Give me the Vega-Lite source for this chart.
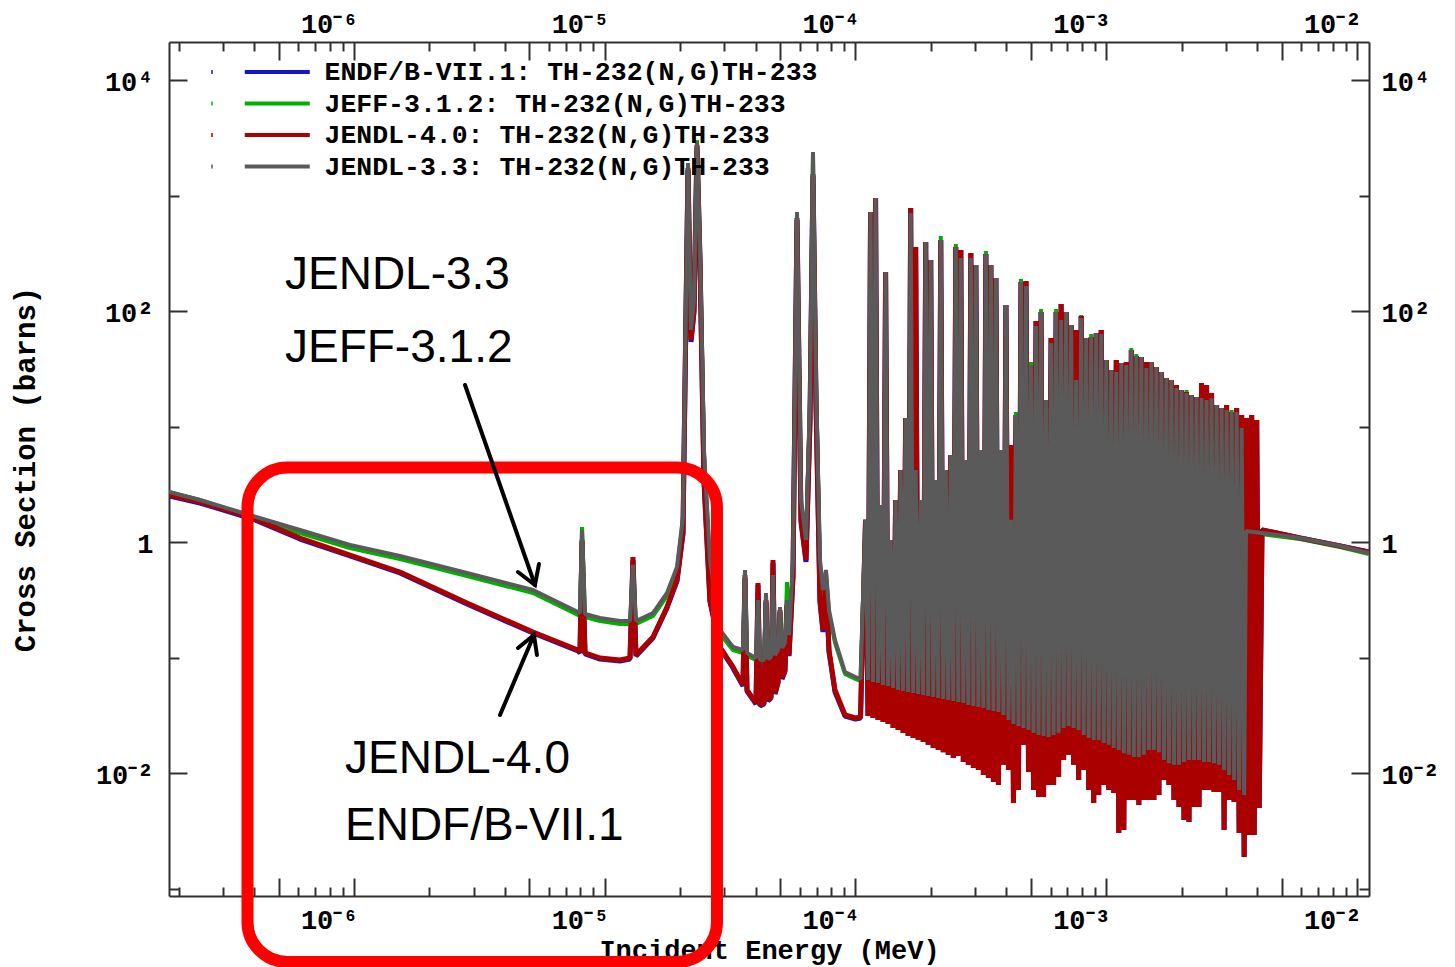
{
"$schema":"https://vega.github.io/schema/vega-lite/v6.json",
"width":1200,"height":854,
"autosize":{"type":"none"},
"padding":{"left":169,"top":42,"right":86,"bottom":71},
"background":"white",
"config":{"view":{"stroke":null}},
"datasets":{
"gray":[{"e":1.829e-7,"v":2.736},{"e":2.431e-7,"v":2.333},{"e":3.956e-7,"v":1.696},{"e":6.090e-7,"v":1.283},{"e":9.640e-7,"v":0.951},{"e":1.525e-6,"v":0.764},{"e":2.823e-6,"v":0.5445},{"e":5.174e-6,"v":0.3879},{"e":7.823e-6,"v":0.2502},{"e":7.968e-6,"v":0.245},{"e":8.116e-6,"v":1.283},{"e":8.342e-6,"v":0.2404},{"e":9.574e-6,"v":0.2220},{"e":1.150e-5,"v":0.2091},{"e":1.261e-5,"v":0.2091},{"e":1.296e-5,"v":0.639},{"e":1.332e-5,"v":0.2091},{"e":1.557e-5,"v":0.245},{"e":1.771e-5,"v":0.3655},{"e":1.942e-5,"v":0.6135},{"e":2.051e-5,"v":1.663},{"e":2.109e-5,"v":125.9},{"e":2.148e-5,"v":1931},{"e":2.208e-5,"v":69.2},{"e":2.270e-5,"v":125.9},{"e":2.333e-5,"v":2935},{"e":2.398e-5,"v":341},{"e":2.488e-5,"v":6.32},{"e":2.628e-5,"v":0.706},{"e":2.882e-5,"v":0.175},{"e":3.246e-5,"v":0.1245},{"e":3.559e-5,"v":0.1173},{"e":3.625e-5,"v":0.578},{"e":3.692e-5,"v":0.1105},{"e":4.011e-5,"v":0.100},{"e":4.085e-5,"v":0.318},{"e":4.161e-5,"v":0.0961},{"e":4.316e-5,"v":0.0961},{"e":4.396e-5,"v":0.3655},{"e":4.477e-5,"v":0.0980},{"e":4.602e-5,"v":0.1020},{"e":4.688e-5,"v":0.523},{"e":4.775e-5,"v":0.106},{"e":4.908e-5,"v":0.1173},{"e":4.999e-5,"v":0.2764},{"e":5.092e-5,"v":0.1221},{"e":5.234e-5,"v":0.1349},{"e":5.331e-5,"v":0.318},{"e":5.430e-5,"v":0.158},{"e":5.633e-5,"v":0.706},{"e":5.844e-5,"v":727},{"e":6.063e-5,"v":2.333},{"e":6.347e-5,"v":1.05},{"e":6.584e-5,"v":17.1},{"e":6.768e-5,"v":2404},{"e":6.957e-5,"v":25.5},{"e":7.217e-5,"v":0.706},{"e":7.419e-5,"v":0.388},{"e":7.626e-5,"v":0.578},{"e":7.841e-5,"v":0.260},{"e":8.285e-5,"v":0.143},{"e":9.081e-5,"v":0.07563},{"e":1.0e-4,"v":0.06846},{"e":1.0471e-4,"v":0.06579},
{"e":1.0965e-4,"v":1.57},{"e":1.1220e-4,"v":0.0645},{"e":1.1482e-4,"v":727},{"e":1.1749e-4,"v":0.0620},{"e":1.2023e-4,"v":960.9},{"e":1.2303e-4,"v":0.0607},{"e":1.2589e-4,"v":2.112},{"e":1.2882e-4,"v":0.0584},{"e":1.3183e-4,"v":219.8},{"e":1.3490e-4,"v":0.0572},{"e":1.3804e-4,"v":1.05},{"e":1.4125e-4,"v":0.0550},{"e":1.4454e-4,"v":2.333},{"e":1.4791e-4,"v":0.0528},{"e":1.5136e-4,"v":4.24},{"e":1.5488e-4,"v":0.0518},{"e":1.5849e-4,"v":11.96},{"e":1.6218e-4,"v":0.0508},{"e":1.6596e-4,"v":712.6},{"e":1.6982e-4,"v":0.0498},{"e":1.7378e-4,"v":4.24},{"e":1.7783e-4,"v":0.0488},{"e":1.8197e-4,"v":2.333},{"e":1.8621e-4,"v":0.0478},{"e":1.9055e-4,"v":399.6},{"e":1.9498e-4,"v":0.0469},{"e":1.9953e-4,"v":279},{"e":2.0417e-4,"v":0.0460},{"e":2.0893e-4,"v":3.48},{"e":2.1380e-4,"v":0.0450},{"e":2.1878e-4,"v":416},{"e":2.2387e-4,"v":0.0442},{"e":2.2909e-4,"v":4.24},{"e":2.3442e-4,"v":0.0433},{"e":2.3988e-4,"v":5.72},{"e":2.4547e-4,"v":0.0424},{"e":2.5119e-4,"v":361.7},{"e":2.5704e-4,"v":0.0416},{"e":2.6303e-4,"v":290.5},{"e":2.6915e-4,"v":0.0408},{"e":2.7542e-4,"v":5.18},{"e":2.8184e-4,"v":0.0392},{"e":2.8840e-4,"v":290.5},{"e":2.9512e-4,"v":0.0384},{"e":3.0200e-4,"v":253},{"e":3.0903e-4,"v":0.0377},{"e":3.1623e-4,"v":6.32},{"e":3.2359e-4,"v":0.0369},{"e":3.3113e-4,"v":314.7},{"e":3.3884e-4,"v":0.0355},{"e":3.4674e-4,"v":253},{"e":3.5481e-4,"v":0.0348},{"e":3.6308e-4,"v":195.0},{"e":3.7154e-4,"v":0.0341},{"e":3.8019e-4,"v":6.32},{"e":3.8905e-4,"v":0.0321},{"e":3.9811e-4,"v":113.8},{"e":4.0738e-4,"v":0.0291},{"e":4.1687e-4,"v":1.57},{"e":4.2658e-4,"v":0.0268},{"e":4.3652e-4,"v":12.7},{"e":4.4668e-4,"v":0.0258},{"e":4.5709e-4,"v":180.0},{"e":4.6774e-4,"v":0.0248},{"e":4.7863e-4,"v":166.3},{"e":4.8978e-4,"v":0.0238},{"e":5.0119e-4,"v":34.4},{"e":5.1286e-4,"v":0.0224},{"e":5.2481e-4,"v":74.9},{"e":5.3703e-4,"v":0.0216},{"e":5.4954e-4,"v":99.0},{"e":5.6234e-4,"v":0.0211},{"e":5.7544e-4,"v":17.1},{"e":5.8884e-4,"v":0.0207},{"e":6.0256e-4,"v":53.4},{"e":6.1660e-4,"v":0.0216},{"e":6.3096e-4,"v":99.0},{"e":6.4565e-4,"v":0.0224},{"e":6.6069e-4,"v":84.4},{"e":6.7608e-4,"v":0.0248},{"e":6.9183e-4,"v":99.0},{"e":7.0795e-4,"v":0.0258},{"e":7.2444e-4,"v":76.4},{"e":7.4131e-4,"v":0.0248},{"e":7.5858e-4,"v":25.5},{"e":7.7625e-4,"v":0.0238},{"e":7.9433e-4,"v":87.8},{"e":8.1283e-4,"v":0.0216},{"e":8.3176e-4,"v":59.0},{"e":8.5114e-4,"v":0.0203},{"e":8.7096e-4,"v":60.1},{"e":8.9125e-4,"v":0.0195},{"e":9.1201e-4,"v":65.1},{"e":9.3325e-4,"v":0.0195},{"e":9.5499e-4,"v":63.9},{"e":9.7724e-4,"v":0.0184},{"e":1.0000e-3,"v":38.0},{"e":1.0233e-3,"v":0.0177},{"e":1.0471e-3,"v":31.2},{"e":1.0715e-3,"v":0.0166},{"e":1.0965e-3,"v":29.9},{"e":1.1220e-3,"v":0.0160},{"e":1.1482e-3,"v":35.8},{"e":1.1749e-3,"v":0.0150},{"e":1.2023e-3,"v":34.4},{"e":1.2303e-3,"v":0.0145},{"e":1.2589e-3,"v":46.4},{"e":1.2882e-3,"v":0.0139},{"e":1.3183e-3,"v":41.2},{"e":1.3490e-3,"v":0.0139},{"e":1.3804e-3,"v":40.4},{"e":1.4125e-3,"v":0.0145},{"e":1.4454e-3,"v":32.4},{"e":1.4791e-3,"v":0.0160},{"e":1.5136e-3,"v":36.5},{"e":1.5488e-3,"v":0.0160},{"e":1.5849e-3,"v":33.1},{"e":1.6218e-3,"v":0.0153},{"e":1.6596e-3,"v":29.9},{"e":1.6982e-3,"v":0.0131},{"e":1.7378e-3,"v":26.6},{"e":1.7783e-3,"v":0.0123},{"e":1.8197e-3,"v":25.5},{"e":1.8621e-3,"v":0.0119},{"e":1.9055e-3,"v":21.8},{"e":1.9498e-3,"v":0.0119},{"e":1.9953e-3,"v":20.9},{"e":2.0417e-3,"v":0.0126},{"e":2.0893e-3,"v":19.7},{"e":2.1380e-3,"v":0.0131},{"e":2.1878e-3,"v":18.9},{"e":2.2387e-3,"v":0.0131},{"e":2.2909e-3,"v":18.2},{"e":2.3442e-3,"v":0.0131},{"e":2.3988e-3,"v":17.8},{"e":2.4547e-3,"v":0.0126},{"e":2.5119e-3,"v":17.1},{"e":2.5704e-3,"v":0.0126},{"e":2.6303e-3,"v":17.8},{"e":2.6915e-3,"v":0.0123},{"e":2.7542e-3,"v":15.5},{"e":2.8184e-3,"v":0.0119},{"e":2.8840e-3,"v":14.6},{"e":2.9512e-3,"v":0.0107},{"e":3.0200e-3,"v":14.0},{"e":3.0903e-3,"v":0.00971},{"e":3.1623e-3,"v":13.5},{"e":3.2359e-3,"v":0.00879},{"e":3.3113e-3,"v":13.5},{"e":3.3884e-3,"v":0.00720},{"e":3.4674e-3,"v":9.80},{"e":3.5481e-3,"v":0.00652},
{"e":3.608e-3,"v":1.258},{"e":5.925e-3,"v":1.094},{"e":8.555e-3,"v":0.9326},{"e":1.115e-2,"v":0.8111}],
"green":[{"e":1.829e-7,"v":2.736},{"e":2.431e-7,"v":2.333},{"e":3.956e-7,"v":1.630},{"e":6.090e-7,"v":1.208},{"e":9.640e-7,"v":0.8962},{"e":1.525e-6,"v":0.7197},{"e":2.823e-6,"v":0.5127},{"e":5.174e-6,"v":0.3655},{"e":7.823e-6,"v":0.2357},{"e":7.968e-6,"v":0.2311},{"e":8.116e-6,"v":1.36},{"e":8.342e-6,"v":0.2264},{"e":9.574e-6,"v":0.2091},{"e":1.150e-5,"v":0.1970},{"e":1.261e-5,"v":0.1970},{"e":1.296e-5,"v":0.6013},{"e":1.332e-5,"v":0.1970},{"e":1.557e-5,"v":0.2311},{"e":1.771e-5,"v":0.3441},{"e":1.942e-5,"v":0.578},{"e":2.051e-5,"v":1.597},{"e":2.109e-5,"v":120.9},{"e":2.148e-5,"v":1855},{"e":2.208e-5,"v":66.46},{"e":2.270e-5,"v":120.9},{"e":2.333e-5,"v":3055},{"e":2.398e-5,"v":327.4},{"e":2.488e-5,"v":5.722},{"e":2.628e-5,"v":0.639},{"e":2.882e-5,"v":0.1614},{"e":3.246e-5,"v":0.1173},{"e":3.559e-5,"v":0.1105},{"e":3.625e-5,"v":0.523},{"e":3.692e-5,"v":0.1040},{"e":4.011e-5,"v":0.0961},{"e":4.085e-5,"v":0.288},{"e":4.161e-5,"v":0.09234},{"e":4.316e-5,"v":0.09234},{"e":4.396e-5,"v":0.3307},{"e":4.477e-5,"v":0.0942},{"e":4.602e-5,"v":0.0980},{"e":4.688e-5,"v":0.4928},{"e":4.775e-5,"v":0.1020},{"e":4.908e-5,"v":0.1127},{"e":4.999e-5,"v":0.260},{"e":5.092e-5,"v":0.1173},{"e":5.234e-5,"v":0.130},{"e":5.331e-5,"v":0.4549},{"e":5.430e-5,"v":0.1520},{"e":5.633e-5,"v":0.6646},{"e":5.844e-5,"v":698.6},{"e":6.063e-5,"v":2.198},{"e":6.347e-5,"v":0.990},{"e":6.584e-5,"v":16.46},{"e":6.768e-5,"v":2310},{"e":6.957e-5,"v":24.53},{"e":7.217e-5,"v":0.6646},{"e":7.419e-5,"v":0.3655},{"e":7.626e-5,"v":0.5445},{"e":7.841e-5,"v":0.245},{"e":8.285e-5,"v":0.1349},{"e":9.081e-5,"v":0.07267},{"e":1.0e-4,"v":0.06579},{"e":1.0471e-4,"v":0.06321},
{"e":1.0965e-4,"v":1.57},{"e":1.1220e-4,"v":0.0645},{"e":1.1482e-4,"v":727},{"e":1.1749e-4,"v":0.0620},{"e":1.2023e-4,"v":960.9},{"e":1.2303e-4,"v":0.0607},{"e":1.2589e-4,"v":2.112},{"e":1.2882e-4,"v":0.0584},{"e":1.3183e-4,"v":219.8},{"e":1.3490e-4,"v":0.0572},{"e":1.3804e-4,"v":1.05},{"e":1.4125e-4,"v":0.0550},{"e":1.4454e-4,"v":2.333},{"e":1.4791e-4,"v":0.0528},{"e":1.5136e-4,"v":4.24},{"e":1.5488e-4,"v":0.0518},{"e":1.5849e-4,"v":11.96},{"e":1.6218e-4,"v":0.0508},{"e":1.6596e-4,"v":712.6},{"e":1.6982e-4,"v":0.0498},{"e":1.7378e-4,"v":4.24},{"e":1.7783e-4,"v":0.0488},{"e":1.8197e-4,"v":2.333},{"e":1.8621e-4,"v":0.0478},{"e":1.9055e-4,"v":399.6},{"e":1.9498e-4,"v":0.0469},{"e":1.9953e-4,"v":279},{"e":2.0417e-4,"v":0.0460},{"e":2.0893e-4,"v":3.48},{"e":2.1380e-4,"v":0.0450},{"e":2.1878e-4,"v":450.5},{"e":2.2387e-4,"v":0.0442},{"e":2.2909e-4,"v":4.24},{"e":2.3442e-4,"v":0.0433},{"e":2.3988e-4,"v":5.72},{"e":2.4547e-4,"v":0.0424},{"e":2.5119e-4,"v":384.1},{"e":2.5704e-4,"v":0.0416},{"e":2.6303e-4,"v":290.5},{"e":2.6915e-4,"v":0.0408},{"e":2.7542e-4,"v":5.18},{"e":2.8184e-4,"v":0.0392},{"e":2.8840e-4,"v":290.5},{"e":2.9512e-4,"v":0.0384},{"e":3.0200e-4,"v":253},{"e":3.0903e-4,"v":0.0377},{"e":3.1623e-4,"v":6.32},{"e":3.2359e-4,"v":0.0369},{"e":3.3113e-4,"v":334.0},{"e":3.3884e-4,"v":0.0355},{"e":3.4674e-4,"v":253},{"e":3.5481e-4,"v":0.0348},{"e":3.6308e-4,"v":195.0},{"e":3.7154e-4,"v":0.0341},{"e":3.8019e-4,"v":6.32},{"e":3.8905e-4,"v":0.0321},{"e":3.9811e-4,"v":113.8},{"e":4.0738e-4,"v":0.0291},{"e":4.1687e-4,"v":1.57},{"e":4.2658e-4,"v":0.0268},{"e":4.3652e-4,"v":13.5},{"e":4.4668e-4,"v":0.0258},{"e":4.5709e-4,"v":191.2},{"e":4.6774e-4,"v":0.0248},{"e":4.7863e-4,"v":166.3},{"e":4.8978e-4,"v":0.0238},{"e":5.0119e-4,"v":36.5},{"e":5.1286e-4,"v":0.0224},{"e":5.2481e-4,"v":74.9},{"e":5.3703e-4,"v":0.0216},{"e":5.4954e-4,"v":105.1},{"e":5.6234e-4,"v":0.0211},{"e":5.7544e-4,"v":17.1},{"e":5.8884e-4,"v":0.0207},{"e":6.0256e-4,"v":53.4},{"e":6.1660e-4,"v":0.0216},{"e":6.3096e-4,"v":105.1},{"e":6.4565e-4,"v":0.0224},{"e":6.6069e-4,"v":84.4},{"e":6.7608e-4,"v":0.0248},{"e":6.9183e-4,"v":99.0},{"e":7.0795e-4,"v":0.0258},{"e":7.2444e-4,"v":76.4},{"e":7.4131e-4,"v":0.0248},{"e":7.5858e-4,"v":25.5},{"e":7.7625e-4,"v":0.0238},{"e":7.9433e-4,"v":93.3},{"e":8.1283e-4,"v":0.0216},{"e":8.3176e-4,"v":59.0},{"e":8.5114e-4,"v":0.0203},{"e":8.7096e-4,"v":63.9},{"e":8.9125e-4,"v":0.0195},{"e":9.1201e-4,"v":65.1},{"e":9.3325e-4,"v":0.0195},{"e":9.5499e-4,"v":63.9},{"e":9.7724e-4,"v":0.0184},{"e":1.0000e-3,"v":38.0},{"e":1.0233e-3,"v":0.0177},{"e":1.0471e-3,"v":31.2},{"e":1.0715e-3,"v":0.0166},{"e":1.0965e-3,"v":29.9},{"e":1.1220e-3,"v":0.0160},{"e":1.1482e-3,"v":35.8},{"e":1.1749e-3,"v":0.0150},{"e":1.2023e-3,"v":34.4},{"e":1.2303e-3,"v":0.0145},{"e":1.2589e-3,"v":48.3},{"e":1.2882e-3,"v":0.0139},{"e":1.3183e-3,"v":42.9},{"e":1.3490e-3,"v":0.0139},{"e":1.3804e-3,"v":40.4},{"e":1.4125e-3,"v":0.0145},{"e":1.4454e-3,"v":32.4},{"e":1.4791e-3,"v":0.0160},{"e":1.5136e-3,"v":36.5},{"e":1.5488e-3,"v":0.0160},{"e":1.5849e-3,"v":33.1},{"e":1.6218e-3,"v":0.0153},{"e":1.6596e-3,"v":29.9},{"e":1.6982e-3,"v":0.0131},{"e":1.7378e-3,"v":26.6},{"e":1.7783e-3,"v":0.0123},{"e":1.8197e-3,"v":25.5},{"e":1.8621e-3,"v":0.0119},{"e":1.9055e-3,"v":21.8},{"e":1.9498e-3,"v":0.0119},{"e":1.9953e-3,"v":20.9},{"e":2.0417e-3,"v":0.0126},{"e":2.0893e-3,"v":20.9},{"e":2.1380e-3,"v":0.0131},{"e":2.1878e-3,"v":18.9},{"e":2.2387e-3,"v":0.0131},{"e":2.2909e-3,"v":18.2},{"e":2.3442e-3,"v":0.0131},{"e":2.3988e-3,"v":17.8},{"e":2.4547e-3,"v":0.0126},{"e":2.5119e-3,"v":17.1},{"e":2.5704e-3,"v":0.0126},{"e":2.6303e-3,"v":17.8},{"e":2.6915e-3,"v":0.0123},{"e":2.7542e-3,"v":15.5},{"e":2.8184e-3,"v":0.0119},{"e":2.8840e-3,"v":14.6},{"e":2.9512e-3,"v":0.0107},{"e":3.0200e-3,"v":14.0},{"e":3.0903e-3,"v":0.00971},{"e":3.1623e-3,"v":14.0},{"e":3.2359e-3,"v":0.00879},{"e":3.3113e-3,"v":13.5},{"e":3.3884e-3,"v":0.00720},{"e":3.4674e-3,"v":9.80},{"e":3.5481e-3,"v":0.00652},
{"e":3.608e-3,"v":1.233},{"e":5.925e-3,"v":1.072},{"e":8.555e-3,"v":0.914},{"e":1.115e-2,"v":0.795}],
"red":[{"e":1.829e-7,"v":2.578},{"e":2.431e-7,"v":2.242},{"e":3.956e-7,"v":1.630},{"e":6.090e-7,"v":1.094},{"e":9.640e-7,"v":0.779},{"e":1.525e-6,"v":0.5554},{"e":2.823e-6,"v":0.2993},{"e":5.174e-6,"v":0.1679},{"e":7.823e-6,"v":0.1173},{"e":7.968e-6,"v":0.1127},{"e":8.116e-6,"v":1.05},{"e":8.342e-6,"v":0.1105},{"e":9.574e-6,"v":0.100},{"e":1.150e-5,"v":0.0961},{"e":1.261e-5,"v":0.100},{"e":1.296e-5,"v":0.7489},{"e":1.332e-5,"v":0.106},{"e":1.557e-5,"v":0.1520},{"e":1.771e-5,"v":0.2764},{"e":1.942e-5,"v":0.474},{"e":2.051e-5,"v":1.208},{"e":2.109e-5,"v":103},{"e":2.148e-5,"v":1747},{"e":2.208e-5,"v":56.6},{"e":2.270e-5,"v":103},{"e":2.333e-5,"v":2764},{"e":2.398e-5,"v":279},{"e":2.488e-5,"v":3.48},{"e":2.628e-5,"v":0.318},{"e":2.882e-5,"v":0.1245},{"e":3.246e-5,"v":0.0836},{"e":3.559e-5,"v":0.0584},{"e":3.625e-5,"v":0.523},{"e":3.692e-5,"v":0.0528},{"e":4.011e-5,"v":0.04077},{"e":4.085e-5,"v":0.4461},{"e":4.161e-5,"v":0.0392},{"e":4.316e-5,"v":0.04077},{"e":4.396e-5,"v":0.318},{"e":4.477e-5,"v":0.0433},{"e":4.602e-5,"v":0.04596},{"e":4.688e-5,"v":0.706},{"e":4.775e-5,"v":0.04977},{"e":4.908e-5,"v":0.06197},{"e":4.999e-5,"v":0.260},{"e":5.092e-5,"v":0.06711},{"e":5.234e-5,"v":0.0787},{"e":5.331e-5,"v":0.288},{"e":5.430e-5,"v":0.106},{"e":5.633e-5,"v":0.523},{"e":5.844e-5,"v":645},{"e":6.063e-5,"v":1.57},{"e":6.347e-5,"v":0.706},{"e":6.584e-5,"v":11.5},{"e":6.768e-5,"v":1490},{"e":6.957e-5,"v":17.1},{"e":7.217e-5,"v":0.318},{"e":7.419e-5,"v":0.175},{"e":7.626e-5,"v":0.474},{"e":7.841e-5,"v":0.117},{"e":8.285e-5,"v":0.0528},{"e":9.081e-5,"v":0.0321},{"e":1.0e-4,"v":0.03024},{"e":1.0471e-4,"v":0.03085},
{"e":1.0965e-4,"v":1.57},{"e":1.1220e-4,"v":0.03147},{"e":1.1482e-4,"v":727},{"e":1.1749e-4,"v":0.03024},{"e":1.2023e-4,"v":960.9},{"e":1.2303e-4,"v":0.0291},{"e":1.2589e-4,"v":2.112},{"e":1.2882e-4,"v":0.02792},{"e":1.3183e-4,"v":219.8},{"e":1.3490e-4,"v":0.0268},{"e":1.3804e-4,"v":1.05},{"e":1.4125e-4,"v":0.0248},{"e":1.4454e-4,"v":2.333},{"e":1.4791e-4,"v":0.0238},{"e":1.5136e-4,"v":4.24},{"e":1.5488e-4,"v":0.0224},{"e":1.5849e-4,"v":11.96},{"e":1.6218e-4,"v":0.0211},{"e":1.6596e-4,"v":787.3},{"e":1.6982e-4,"v":0.0203},{"e":1.7378e-4,"v":361.7},{"e":1.7783e-4,"v":0.0195},{"e":1.8197e-4,"v":2.333},{"e":1.8621e-4,"v":0.01874},{"e":1.9055e-4,"v":399.6},{"e":1.9498e-4,"v":0.0177},{"e":1.9953e-4,"v":279},{"e":2.0417e-4,"v":0.0166},{"e":2.0893e-4,"v":3.48},{"e":2.1380e-4,"v":0.0160},{"e":2.1878e-4,"v":416},{"e":2.2387e-4,"v":0.0153},{"e":2.2909e-4,"v":4.24},{"e":2.3442e-4,"v":0.0145},{"e":2.3988e-4,"v":5.72},{"e":2.4547e-4,"v":0.01362},{"e":2.5119e-4,"v":361.7},{"e":2.5704e-4,"v":0.01418},{"e":2.6303e-4,"v":341},{"e":2.6915e-4,"v":0.0126},{"e":2.7542e-4,"v":5.18},{"e":2.8184e-4,"v":0.0119},{"e":2.8840e-4,"v":321.0},{"e":2.9512e-4,"v":0.01116},{"e":3.0200e-4,"v":253},{"e":3.0903e-4,"v":0.0107},{"e":3.1623e-4,"v":6.32},{"e":3.2359e-4,"v":0.00971},{"e":3.3113e-4,"v":314.7},{"e":3.3884e-4,"v":0.00914},{"e":3.4674e-4,"v":253},{"e":3.5481e-4,"v":0.00844},{"e":3.6308e-4,"v":195.0},{"e":3.7154e-4,"v":0.00795},{"e":3.8019e-4,"v":6.32},{"e":3.8905e-4,"v":0.0119},{"e":3.9811e-4,"v":113.8},{"e":4.0738e-4,"v":0.0107},{"e":4.1687e-4,"v":6.985},{"e":4.2658e-4,"v":0.00555},{"e":4.3652e-4,"v":12.7},{"e":4.4668e-4,"v":0.0072},{"e":4.5709e-4,"v":180.0},{"e":4.6774e-4,"v":0.0177},{"e":4.7863e-4,"v":183.7},{"e":4.8978e-4,"v":0.0103},{"e":5.0119e-4,"v":34.4},{"e":5.1286e-4,"v":0.0072},{"e":5.2481e-4,"v":82.8},{"e":5.3703e-4,"v":0.00626},{"e":5.4954e-4,"v":99.0},{"e":5.6234e-4,"v":0.00626},{"e":5.7544e-4,"v":17.1},{"e":5.8884e-4,"v":0.00795},{"e":6.0256e-4,"v":59.0},{"e":6.1660e-4,"v":0.00795},{"e":6.3096e-4,"v":99.0},{"e":6.4565e-4,"v":0.00933},{"e":6.6069e-4,"v":116.1},{"e":6.7608e-4,"v":0.0131},{"e":6.9183e-4,"v":99.0},{"e":7.0795e-4,"v":0.0145},{"e":7.2444e-4,"v":76.4},{"e":7.4131e-4,"v":0.0119},{"e":7.5858e-4,"v":69.2},{"e":7.7625e-4,"v":0.00879},{"e":7.9433e-4,"v":91.4},{"e":8.1283e-4,"v":0.0107},{"e":8.3176e-4,"v":59.0},{"e":8.5114e-4,"v":0.0072},{"e":8.7096e-4,"v":60.1},{"e":8.9125e-4,"v":0.00555},{"e":9.1201e-4,"v":65.1},{"e":9.3325e-4,"v":0.00652},{"e":9.5499e-4,"v":69.2},{"e":9.7724e-4,"v":0.00795},{"e":1.0000e-3,"v":38.0},{"e":1.0233e-3,"v":0.0072},{"e":1.0471e-3,"v":31.2},{"e":1.0715e-3,"v":0.00678},{"e":1.0965e-3,"v":38.0},{"e":1.1220e-3,"v":0.00305},{"e":1.1482e-3,"v":35.8},{"e":1.1749e-3,"v":0.00324},{"e":1.2023e-3,"v":36.5},{"e":1.2303e-3,"v":0.0059},{"e":1.2589e-3,"v":46.4},{"e":1.2882e-3,"v":0.0059},{"e":1.3183e-3,"v":41.2},{"e":1.3490e-3,"v":0.00534},{"e":1.3804e-3,"v":40.4},{"e":1.4125e-3,"v":0.0059},{"e":1.4454e-3,"v":36.5},{"e":1.4791e-3,"v":0.0059},{"e":1.5136e-3,"v":36.5},{"e":1.5488e-3,"v":0.0059},{"e":1.5849e-3,"v":33.1},{"e":1.6218e-3,"v":0.00652},{"e":1.6596e-3,"v":29.9},{"e":1.6982e-3,"v":0.00879},{"e":1.7378e-3,"v":26.6},{"e":1.7783e-3,"v":0.00795},{"e":1.8197e-3,"v":25.5},{"e":1.8621e-3,"v":0.0059},{"e":1.9055e-3,"v":23.1},{"e":1.9498e-3,"v":0.00513},{"e":1.9953e-3,"v":20.9},{"e":2.0417e-3,"v":0.00396},{"e":2.0893e-3,"v":20.1},{"e":2.1380e-3,"v":0.0038},{"e":2.1878e-3,"v":18.9},{"e":2.2387e-3,"v":0.00513},{"e":2.2909e-3,"v":18.2},{"e":2.3442e-3,"v":0.00513},{"e":2.3988e-3,"v":24.0},{"e":2.4547e-3,"v":0.0072},{"e":2.5119e-3,"v":23.1},{"e":2.5704e-3,"v":0.0072},{"e":2.6303e-3,"v":19.7},{"e":2.6915e-3,"v":0.00692},{"e":2.7542e-3,"v":15.5},{"e":2.8184e-3,"v":0.00692},{"e":2.8840e-3,"v":14.6},{"e":2.9512e-3,"v":0.00324},{"e":3.0200e-3,"v":15.5},{"e":3.0903e-3,"v":0.0059},{"e":3.1623e-3,"v":13.5},{"e":3.2359e-3,"v":0.00567},{"e":3.3113e-3,"v":14.6},{"e":3.3884e-3,"v":0.00305},{"e":3.4674e-3,"v":12.7},{"e":3.5481e-3,"v":0.00189},{"e":3.6308e-3,"v":11.96},{"e":3.7154e-3,"v":0.00294},{"e":3.8019e-3,"v":12.7},{"e":3.8905e-3,"v":0.00294},{"e":3.9811e-3,"v":11.5},{"e":4.0738e-3,"v":0.00503},
{"e":4.180e-3,"v":1.283},{"e":5.925e-3,"v":1.094},{"e":8.555e-3,"v":0.9326},{"e":1.115e-2,"v":0.8275}],
"blue":[{"e":1.829e-7,"v":2.527},{"e":2.431e-7,"v":2.198},{"e":3.956e-7,"v":1.597},{"e":6.090e-7,"v":1.072},{"e":9.640e-7,"v":0.764},{"e":1.525e-6,"v":0.5445},{"e":2.823e-6,"v":0.2934},{"e":5.174e-6,"v":0.1646},{"e":7.823e-6,"v":0.1150},{"e":7.968e-6,"v":0.1105},{"e":8.116e-6,"v":1.010},{"e":8.342e-6,"v":0.1083},{"e":9.574e-6,"v":0.0980},{"e":1.150e-5,"v":0.0942},{"e":1.261e-5,"v":0.0980},{"e":1.296e-5,"v":0.706},{"e":1.332e-5,"v":0.1040},{"e":1.557e-5,"v":0.1490},{"e":1.771e-5,"v":0.2710},{"e":1.942e-5,"v":0.4642},{"e":2.051e-5,"v":1.185},{"e":2.109e-5,"v":99.0},{"e":2.148e-5,"v":1680},{"e":2.208e-5,"v":54.43},{"e":2.270e-5,"v":99.0},{"e":2.333e-5,"v":2656},{"e":2.398e-5,"v":268.3},{"e":2.488e-5,"v":3.341},{"e":2.628e-5,"v":0.3054},{"e":2.882e-5,"v":0.1221},{"e":3.246e-5,"v":0.08193},{"e":3.559e-5,"v":0.05722},{"e":3.625e-5,"v":0.4928},{"e":3.692e-5,"v":0.05179},{"e":4.011e-5,"v":0.03996},{"e":4.085e-5,"v":0.429},{"e":4.161e-5,"v":0.03840},{"e":4.316e-5,"v":0.03996},{"e":4.396e-5,"v":0.3054},{"e":4.477e-5,"v":0.04242},{"e":4.602e-5,"v":0.04505},{"e":4.688e-5,"v":0.6646},{"e":4.775e-5,"v":0.04879},{"e":4.908e-5,"v":0.06074},{"e":4.999e-5,"v":0.2502},{"e":5.092e-5,"v":0.06579},{"e":5.234e-5,"v":0.07716},{"e":5.331e-5,"v":0.2764},{"e":5.430e-5,"v":0.1040},{"e":5.633e-5,"v":0.5026},{"e":5.844e-5,"v":619.8},{"e":6.063e-5,"v":1.505},{"e":6.347e-5,"v":0.6779},{"e":6.584e-5,"v":11.05},{"e":6.768e-5,"v":1551},{"e":6.957e-5,"v":16.46},{"e":7.217e-5,"v":0.3054},{"e":7.419e-5,"v":0.1679},{"e":7.626e-5,"v":0.4549},{"e":7.841e-5,"v":0.1127},{"e":8.285e-5,"v":0.05077},{"e":9.081e-5,"v":0.03147},{"e":1.0e-4,"v":0.02963},{"e":1.0471e-4,"v":0.03024},
{"e":1.0965e-4,"v":1.57},{"e":1.1220e-4,"v":0.03147},{"e":1.1482e-4,"v":727},{"e":1.1749e-4,"v":0.03024},{"e":1.2023e-4,"v":960.9},{"e":1.2303e-4,"v":0.0291},{"e":1.2589e-4,"v":2.112},{"e":1.2882e-4,"v":0.02792},{"e":1.3183e-4,"v":219.8},{"e":1.3490e-4,"v":0.0268},{"e":1.3804e-4,"v":1.05},{"e":1.4125e-4,"v":0.0248},{"e":1.4454e-4,"v":2.333},{"e":1.4791e-4,"v":0.0238},{"e":1.5136e-4,"v":4.24},{"e":1.5488e-4,"v":0.0224},{"e":1.5849e-4,"v":11.96},{"e":1.6218e-4,"v":0.0211},{"e":1.6596e-4,"v":787.3},{"e":1.6982e-4,"v":0.0203},{"e":1.7378e-4,"v":361.7},{"e":1.7783e-4,"v":0.0195},{"e":1.8197e-4,"v":2.333},{"e":1.8621e-4,"v":0.01874},{"e":1.9055e-4,"v":399.6},{"e":1.9498e-4,"v":0.0177},{"e":1.9953e-4,"v":279},{"e":2.0417e-4,"v":0.0166},{"e":2.0893e-4,"v":3.48},{"e":2.1380e-4,"v":0.0160},{"e":2.1878e-4,"v":416},{"e":2.2387e-4,"v":0.0153},{"e":2.2909e-4,"v":4.24},{"e":2.3442e-4,"v":0.0145},{"e":2.3988e-4,"v":5.72},{"e":2.4547e-4,"v":0.01362},{"e":2.5119e-4,"v":361.7},{"e":2.5704e-4,"v":0.01418},{"e":2.6303e-4,"v":341},{"e":2.6915e-4,"v":0.0126},{"e":2.7542e-4,"v":5.18},{"e":2.8184e-4,"v":0.0119},{"e":2.8840e-4,"v":321.0},{"e":2.9512e-4,"v":0.01116},{"e":3.0200e-4,"v":253},{"e":3.0903e-4,"v":0.0107},{"e":3.1623e-4,"v":6.32},{"e":3.2359e-4,"v":0.00971},{"e":3.3113e-4,"v":314.7},{"e":3.3884e-4,"v":0.00914},{"e":3.4674e-4,"v":253},{"e":3.5481e-4,"v":0.00844},{"e":3.6308e-4,"v":195.0},{"e":3.7154e-4,"v":0.00795},{"e":3.8019e-4,"v":6.32},{"e":3.8905e-4,"v":0.0119},{"e":3.9811e-4,"v":113.8},{"e":4.0738e-4,"v":0.0107},{"e":4.1687e-4,"v":6.985},{"e":4.2658e-4,"v":0.00555},{"e":4.3652e-4,"v":12.7},{"e":4.4668e-4,"v":0.0072},{"e":4.5709e-4,"v":180.0},{"e":4.6774e-4,"v":0.0177},{"e":4.7863e-4,"v":183.7},{"e":4.8978e-4,"v":0.0103},{"e":5.0119e-4,"v":34.4},{"e":5.1286e-4,"v":0.0072},{"e":5.2481e-4,"v":82.8},{"e":5.3703e-4,"v":0.00626},{"e":5.4954e-4,"v":99.0},{"e":5.6234e-4,"v":0.00626},{"e":5.7544e-4,"v":17.1},{"e":5.8884e-4,"v":0.00795},{"e":6.0256e-4,"v":59.0},{"e":6.1660e-4,"v":0.00795},{"e":6.3096e-4,"v":99.0},{"e":6.4565e-4,"v":0.00933},{"e":6.6069e-4,"v":116.1},{"e":6.7608e-4,"v":0.0131},{"e":6.9183e-4,"v":99.0},{"e":7.0795e-4,"v":0.0145},{"e":7.2444e-4,"v":76.4},{"e":7.4131e-4,"v":0.0119},{"e":7.5858e-4,"v":69.2},{"e":7.7625e-4,"v":0.00879},{"e":7.9433e-4,"v":91.4},{"e":8.1283e-4,"v":0.0107},{"e":8.3176e-4,"v":59.0},{"e":8.5114e-4,"v":0.0072},{"e":8.7096e-4,"v":60.1},{"e":8.9125e-4,"v":0.00555},{"e":9.1201e-4,"v":65.1},{"e":9.3325e-4,"v":0.00652},{"e":9.5499e-4,"v":69.2},{"e":9.7724e-4,"v":0.00795},{"e":1.0000e-3,"v":38.0},{"e":1.0233e-3,"v":0.0072},{"e":1.0471e-3,"v":31.2},{"e":1.0715e-3,"v":0.00678},{"e":1.0965e-3,"v":38.0},{"e":1.1220e-3,"v":0.00305},{"e":1.1482e-3,"v":35.8},{"e":1.1749e-3,"v":0.00324},{"e":1.2023e-3,"v":36.5},{"e":1.2303e-3,"v":0.0059},{"e":1.2589e-3,"v":46.4},{"e":1.2882e-3,"v":0.0059},{"e":1.3183e-3,"v":41.2},{"e":1.3490e-3,"v":0.00534},{"e":1.3804e-3,"v":40.4},{"e":1.4125e-3,"v":0.0059},{"e":1.4454e-3,"v":36.5},{"e":1.4791e-3,"v":0.0059},{"e":1.5136e-3,"v":36.5},{"e":1.5488e-3,"v":0.0059},{"e":1.5849e-3,"v":33.1},{"e":1.6218e-3,"v":0.00652},{"e":1.6596e-3,"v":29.9},{"e":1.6982e-3,"v":0.00879},{"e":1.7378e-3,"v":26.6},{"e":1.7783e-3,"v":0.00795},{"e":1.8197e-3,"v":25.5},{"e":1.8621e-3,"v":0.0059},{"e":1.9055e-3,"v":23.1},{"e":1.9498e-3,"v":0.00513},{"e":1.9953e-3,"v":20.9},{"e":2.0417e-3,"v":0.00396},{"e":2.0893e-3,"v":20.1},{"e":2.1380e-3,"v":0.0038},{"e":2.1878e-3,"v":18.9},{"e":2.2387e-3,"v":0.00513},{"e":2.2909e-3,"v":18.2},{"e":2.3442e-3,"v":0.00513},{"e":2.3988e-3,"v":24.0},{"e":2.4547e-3,"v":0.0072},{"e":2.5119e-3,"v":23.1},{"e":2.5704e-3,"v":0.0072},{"e":2.6303e-3,"v":19.7},{"e":2.6915e-3,"v":0.00692},{"e":2.7542e-3,"v":15.5},{"e":2.8184e-3,"v":0.00692},{"e":2.8840e-3,"v":14.6},{"e":2.9512e-3,"v":0.00324},{"e":3.0200e-3,"v":15.5},{"e":3.0903e-3,"v":0.0059},{"e":3.1623e-3,"v":13.5},{"e":3.2359e-3,"v":0.00567},{"e":3.3113e-3,"v":14.6},{"e":3.3884e-3,"v":0.00305},{"e":3.4674e-3,"v":12.7},{"e":3.5481e-3,"v":0.00189},{"e":3.6308e-3,"v":11.96},{"e":3.7154e-3,"v":0.00294},{"e":3.8019e-3,"v":12.7},{"e":3.8905e-3,"v":0.00294},{"e":3.9811e-3,"v":11.5},{"e":4.0738e-3,"v":0.00503},
{"e":4.180e-3,"v":1.283},{"e":5.925e-3,"v":1.094},{"e":8.555e-3,"v":0.9326},{"e":1.115e-2,"v":0.8275}],
"box":[{"e1":3.761e-7,"e2":2.803e-5,"v1":2.333e-4,"v2":4.46}],
"arrows":[{"g":"a1","o":1,"e":2.772e-6,"v":23.10},{"g":"a1","o":2,"e":5.268e-6,"v":0.4285},{"g":"h1","o":1,"e":4.508e-6,"v":0.5554},{"g":"h1","o":2,"e":5.268e-6,"v":0.4285},{"g":"h1","o":3,"e":5.466e-6,"v":0.6513},{"g":"a2","o":1,"e":3.822e-6,"v":0.03210},{"g":"a2","o":2,"e":5.220e-6,"v":0.1582},{"g":"h2","o":1,"e":4.508e-6,"v":0.1221},{"g":"h2","o":2,"e":5.220e-6,"v":0.1582},{"g":"h2","o":3,"e":5.366e-6,"v":0.1062}],
"labels":[{"t":"JENDL-3.3","e":5.306e-7,"v":156.6},{"t":"JEFF-3.1.2","e":5.306e-7,"v":36.53},{"t":"JENDL-4.0","e":9.207e-7,"v":0.0101},{"t":"ENDF/B-VII.1","e":9.207e-7,"v":0.002656}]
},
"resolve":{"axis":{"x":"independent","y":"independent"}},
"layer":[
{"data":{"name":"blue"},"mark":{"type":"line","strokeWidth":5,"strokeJoin":"bevel","clip":true},
"encoding":{
"x":{"field":"e","type":"quantitative","scale":{"type":"log","domain":[1.829e-7,1.1165e-2],"nice":false},
"axis":{"orient":"bottom","values":[2e-7,3e-7,4e-7,5e-7,6e-7,7e-7,8e-7,9e-7,1e-6,2e-6,3e-6,4e-6,5e-6,6e-6,7e-6,8e-6,9e-6,1e-5,2e-5,3e-5,4e-5,5e-5,6e-5,7e-5,8e-5,9e-5,1e-4,2e-4,3e-4,4e-4,5e-4,6e-4,7e-4,8e-4,9e-4,1e-3,2e-3,3e-3,4e-3,5e-3,6e-3,7e-3,8e-3,9e-3,1e-2],
"labelExpr":"datum.value == 1e-6 ? '10⁻⁶' : datum.value == 1e-5 ? '10⁻⁵' : datum.value == 1e-4 ? '10⁻⁴' : datum.value == 1e-3 ? '10⁻³' : datum.value == 1e-2 ? '10⁻²' : ''",
"tickSize":{"condition":{"test":"indexof([5e-7,1e-6,5e-6,1e-5,5e-5,1e-4,5e-4,1e-3,5e-3,1e-2], datum.value) >= 0","value":-18},"value":-9},
"tickColor":"#303030","tickWidth":2,"domainColor":"#303030","domainWidth":2,"grid":false,
"labelFont":"Liberation Mono","labelFontWeight":"bold","labelFontSize":27,"labelColor":"#000","labelAlign":"right","labelBaseline":"alphabetic","labelOffset":4,"labelPadding":50,"labelFlush":false,"labelOverlap":false,"labelBound":false,
"title":"Incident Energy (MeV)","titleFont":"Liberation Mono","titleFontWeight":"bold","titleFontSize":27,"titleColor":"#000","titlePadding":16,"titleBaseline":"alphabetic"}},
"y":{"field":"v","type":"quantitative","scale":{"type":"log","domain":[8.697e-4,21544],"nice":false},
"axis":{"orient":"left","values":[0.001,0.01,0.1,1,10,100,1000,10000],
"labelExpr":"datum.value == 10000 ? '10⁴' : datum.value == 100 ? '10²' : datum.value == 1 ? '1' : datum.value == 0.01 ? '10⁻²' : ''",
"tickSize":{"condition":{"test":"indexof([10000,100,1,0.01], datum.value) >= 0","value":-18},"value":-10},
"tickColor":"#303030","tickWidth":2,"domainColor":"#303030","domainWidth":2,"grid":false,
"labelFont":"Liberation Mono","labelFontWeight":"bold","labelFontSize":27,"labelColor":"#000","labelAlign":"right","labelBaseline":"middle","labelOffset":2,"labelPadding":34,"labelFlush":false,"labelOverlap":false,"labelBound":false,
"title":"Cross Section (barns)","titleFont":"Liberation Mono","titleFontWeight":"bold","titleFontSize":29,"titleColor":"#000","titlePadding":61,"titleBaseline":"alphabetic"}},
"color":{"datum":"ENDF/B-VII.1: TH-232(N,G)TH-233","type":"nominal",
"scale":{"domain":["ENDF/B-VII.1: TH-232(N,G)TH-233","JEFF-3.1.2: TH-232(N,G)TH-233","JENDL-4.0: TH-232(N,G)TH-233","JENDL-3.3: TH-232(N,G)TH-233"],"range":["#1414c8","#00b000","#aa0000","#5a5a5a"]},
"legend":{"orient":"none","legendX":95,"legendY":16.75,"title":null,"symbolType":"M-6.6,0H-6.45M-3.25,0H3.25","symbolSize":400,"symbolStrokeWidth":4,"labelFont":"Liberation Mono","labelFontWeight":"bold","labelFontSize":26.5,"labelColor":"#000","labelOffset":34,"labelLimit":800,"rowPadding":4.5,"padding":0}}
}},
{"data":{"name":"green"},"mark":{"type":"line","strokeWidth":4,"strokeJoin":"bevel","clip":true},
"encoding":{
"x":{"field":"e","type":"quantitative",
"axis":{"orient":"top","values":[2e-7,3e-7,4e-7,5e-7,6e-7,7e-7,8e-7,9e-7,1e-6,2e-6,3e-6,4e-6,5e-6,6e-6,7e-6,8e-6,9e-6,1e-5,2e-5,3e-5,4e-5,5e-5,6e-5,7e-5,8e-5,9e-5,1e-4,2e-4,3e-4,4e-4,5e-4,6e-4,7e-4,8e-4,9e-4,1e-3,2e-3,3e-3,4e-3,5e-3,6e-3,7e-3,8e-3,9e-3,1e-2],
"labelExpr":"datum.value == 1e-6 ? '10⁻⁶' : datum.value == 1e-5 ? '10⁻⁵' : datum.value == 1e-4 ? '10⁻⁴' : datum.value == 1e-3 ? '10⁻³' : datum.value == 1e-2 ? '10⁻²' : ''",
"tickSize":{"condition":{"test":"indexof([5e-7,1e-6,5e-6,1e-5,5e-5,1e-4,5e-4,1e-3,5e-3,1e-2], datum.value) >= 0","value":-18},"value":-9},
"tickColor":"#303030","tickWidth":2,"domainColor":"#303030","domainWidth":2,"grid":false,
"labelFont":"Liberation Mono","labelFontWeight":"bold","labelFontSize":27,"labelColor":"#000","labelAlign":"right","labelBaseline":"alphabetic","labelOffset":4,"labelPadding":28,"labelFlush":false,"labelOverlap":false,"labelBound":false,"title":null}},
"y":{"field":"v","type":"quantitative",
"axis":{"orient":"right","values":[0.001,0.01,0.1,1,10,100,1000,10000],
"labelExpr":"datum.value == 10000 ? '10⁴' : datum.value == 100 ? '10²' : datum.value == 1 ? '1' : datum.value == 0.01 ? '10⁻²' : ''",
"tickSize":{"condition":{"test":"indexof([10000,100,1,0.01], datum.value) >= 0","value":-18},"value":-10},
"tickColor":"#303030","tickWidth":2,"domainColor":"#303030","domainWidth":2,"grid":false,
"labelFont":"Liberation Mono","labelFontWeight":"bold","labelFontSize":27,"labelColor":"#000","labelAlign":"left","labelBaseline":"middle","labelOffset":2,"labelPadding":30,"labelFlush":false,"labelOverlap":false,"labelBound":false,"title":null}},
"color":{"datum":"JEFF-3.1.2: TH-232(N,G)TH-233","type":"nominal"}
}},
{"data":{"name":"red"},"mark":{"type":"line","strokeWidth":5,"strokeJoin":"bevel","clip":true},
"encoding":{"x":{"field":"e","type":"quantitative","axis":null},"y":{"field":"v","type":"quantitative","axis":null},"color":{"datum":"JENDL-4.0: TH-232(N,G)TH-233","type":"nominal"}}},
{"data":{"name":"gray"},"mark":{"type":"line","strokeWidth":4,"strokeJoin":"bevel","clip":true},
"encoding":{"x":{"field":"e","type":"quantitative","axis":null},"y":{"field":"v","type":"quantitative","axis":null},"color":{"datum":"JENDL-3.3: TH-232(N,G)TH-233","type":"nominal"}}},
{"data":{"name":"box"},"mark":{"type":"rect","filled":false,"stroke":"#ff0000","strokeWidth":12,"cornerRadius":40,"clip":false},
"encoding":{"x":{"field":"e1","type":"quantitative","axis":null},"x2":{"field":"e2"},"y":{"field":"v1","type":"quantitative","axis":null},"y2":{"field":"v2"}}},
{"data":{"name":"arrows"},"mark":{"type":"line","color":"#000","strokeWidth":4,"strokeCap":"round","clip":false},
"encoding":{"x":{"field":"e","type":"quantitative","axis":null},"y":{"field":"v","type":"quantitative","axis":null},"detail":{"field":"g"},"order":{"field":"o","type":"quantitative"}}},
{"data":{"name":"labels"},"mark":{"type":"text","align":"left","baseline":"alphabetic","font":"Liberation Sans","fontSize":46,"color":"#000","clip":false},
"encoding":{"x":{"field":"e","type":"quantitative","axis":null},"y":{"field":"v","type":"quantitative","axis":null},"text":{"field":"t"}}}
]
}
